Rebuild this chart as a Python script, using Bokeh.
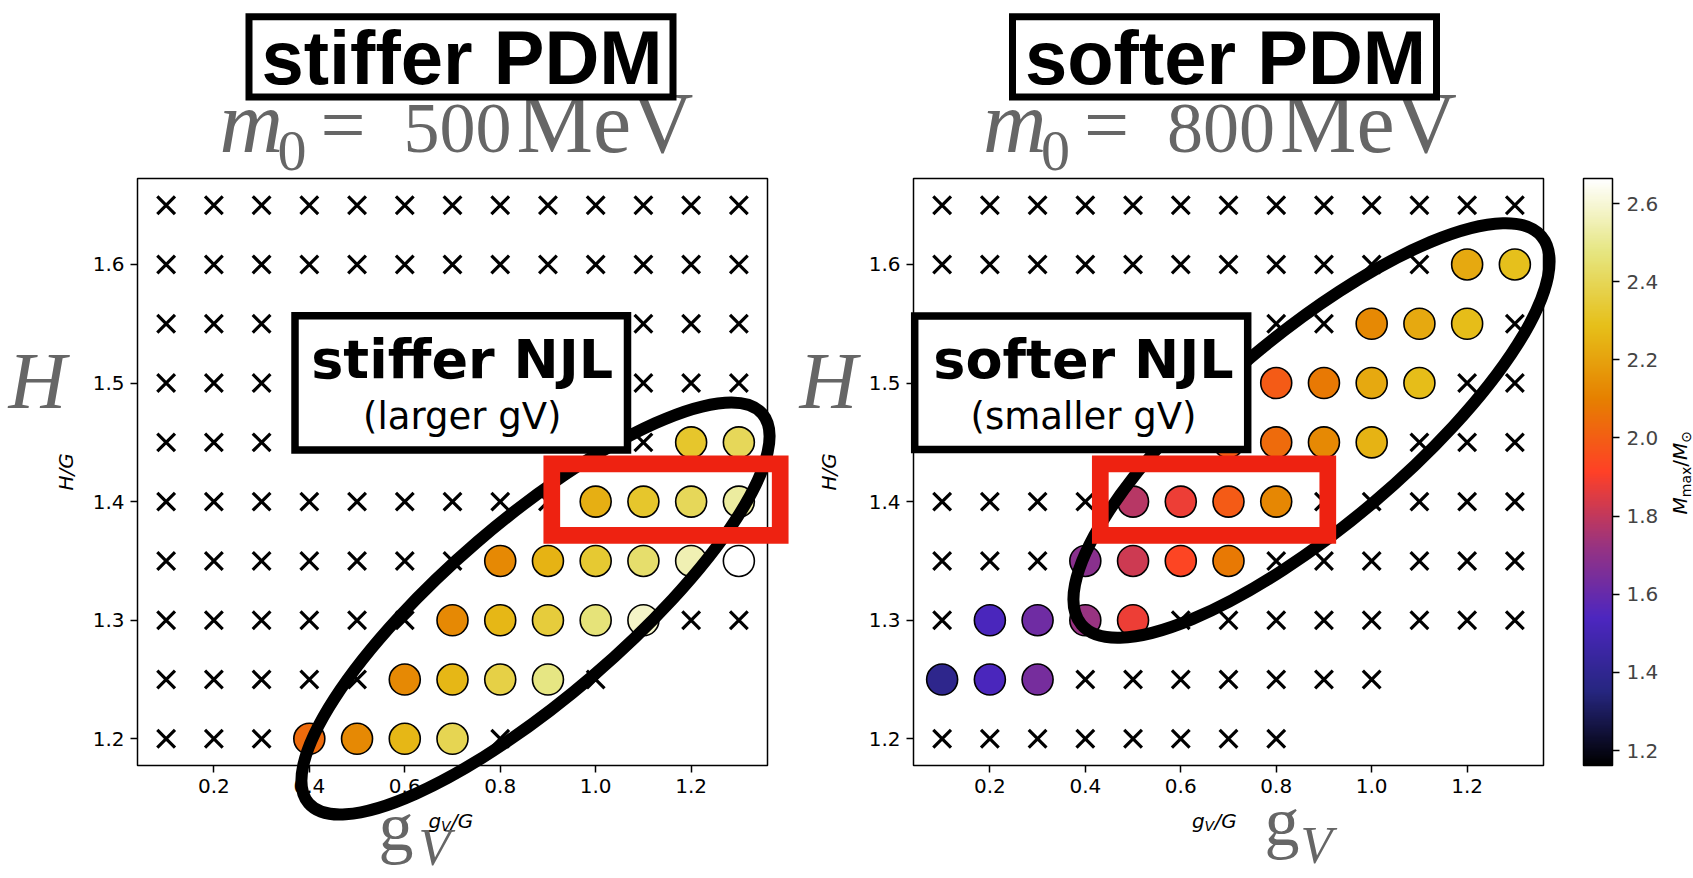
import numpy as np
from bokeh.plotting import figure
from bokeh.models import (ColumnDataSource, LinearAxis, FixedTicker, PrintfTickFormatter,
                          Range1d, LinearColorMapper, ColorBar)
from bokeh.layouts import row
from bokeh.core.properties import value
from bokeh.embed import file_html
from bokeh.resources import INLINE

# ---------------- data ----------------
gv_over_G = [0.1, 0.2, 0.3, 0.4, 0.5, 0.6, 0.7, 0.8, 0.9, 1.0, 1.1, 1.2, 1.3]
H_over_G = [1.2, 1.25, 1.3, 1.35, 1.4, 1.45, 1.5, 1.55, 1.6, 1.65]
X = "x"    # no solution (cross marker)
_ = None   # not computed

# rows follow H_over_G (bottom to top), columns follow gv_over_G
mmax_m0_500 = [
    [X, X, X, 2.04, 2.13, 2.26, 2.39, X, _, _, _, _, _],
    [X, X, X, X, X, 2.13, 2.26, 2.37, 2.48, X, _, _, _],
    [X, X, X, X, X, X, 2.13, 2.26, 2.35, 2.46, 2.58, X, X],
    [X, X, X, X, X, X, X, 2.13, 2.25, 2.33, 2.44, 2.55, 2.66],
    [X, X, X, X, X, X, X, X, X, 2.24, 2.32, 2.40, 2.52],
    [X, X, X, X, X, X, X, X, X, X, X, 2.32, 2.40],
    [X, X, X, X, X, X, X, X, X, X, X, X, X],
    [X, X, X, X, X, X, X, X, X, X, X, X, X],
    [X, X, X, X, X, X, X, X, X, X, X, X, X],
    [X, X, X, X, X, X, X, X, X, X, X, X, X],
]
mmax_m0_800 = [
    [X, X, X, X, X, X, X, X, _, _, _, _, _],
    [1.39, 1.53, 1.64, X, X, X, X, X, X, X, _, _, _],
    [X, 1.53, 1.62, 1.72, 1.88, X, X, X, X, X, X, X, X],
    [X, X, X, 1.69, 1.82, 1.93, 2.08, X, X, X, X, X, X],
    [X, X, X, X, 1.78, 1.88, 1.99, 2.12, X, X, X, X, X],
    [X, X, X, X, X, X, 2.00, 2.04, 2.13, 2.25, X, X, X],
    [X, X, X, X, X, X, X, 1.99, 2.08, 2.22, 2.28, X, X],
    [X, X, X, X, X, X, X, X, X, 2.13, 2.22, 2.28, X],
    [X, X, X, X, X, X, X, X, X, X, X, 2.22, 2.29],
    [X, X, X, X, X, X, X, X, X, X, X, X, X],
]
x_ticks = [0.2, 0.4, 0.6, 0.8, 1.0, 1.2]
y_ticks = [1.2, 1.3, 1.4, 1.5, 1.6]
cbar_ticks = [1.2, 1.4, 1.6, 1.8, 2.0, 2.2, 2.4, 2.6]
mmax_low, mmax_high = 1.162, 2.664

# CMRmap colour map
cmr_pos = [0, .125, .25, .375, .5, .625, .75, .875, 1]
cmr_r = [0, .15, .30, .60, 1.0, .90, .90, .90, 1.0]
cmr_g = [0, .15, .15, .20, .25, .50, .75, .90, 1.0]
cmr_b = [0, .50, .75, .50, .15, .00, .10, .50, 1.0]
palette = ["#%02x%02x%02x" % tuple(int(round(255 * np.interp(t, cmr_pos, c)))
                                    for c in (cmr_r, cmr_g, cmr_b))
           for t in np.linspace(0, 1, 256)]
mapper = LinearColorMapper(palette=palette, low=mmax_low, high=mmax_high)

# ---------------- layout (pixels of the window) ----------------
WIN_H = 878
FRAME_TOP, FRAME_BOTTOM, FRAME_W = 178, 765, 630
GRAY = "#666666"
SERIF = "Liberation Serif"
BASE_K = 0.34   # correction of the rendered alphabetic baseline (fraction of font size)


def split(grid):
    cx, cy, cm, xx, xy = [], [], [], [], []
    for j, hv in enumerate(H_over_G):
        for i, gv in enumerate(gv_over_G):
            v = grid[j][i]
            if v is None:
                continue
            if v == X:
                xx.append(gv); xy.append(hv)
            else:
                cx.append(gv); cy.append(hv); cm.append(v)
    return dict(x=cx, y=cy, m=cm), dict(x=xx, y=xy)


def build(W, frame_left, offset, grid):
    x_lo = min(gv_over_G) - 0.05 * (max(gv_over_G) - min(gv_over_G))
    x_hi = max(gv_over_G) + 0.05 * (max(gv_over_G) - min(gv_over_G))
    y_lo = min(H_over_G) - 0.05 * (max(H_over_G) - min(H_over_G))
    y_hi = max(H_over_G) + 0.05 * (max(H_over_G) - min(H_over_G))
    kx = FRAME_W / (x_hi - x_lo)
    ky = (FRAME_BOTTOM - FRAME_TOP) / (y_hi - y_lo)
    x0 = x_lo - frame_left / kx
    y0 = y_lo - (WIN_H - FRAME_BOTTOM) / ky
    p = figure(width=W, height=WIN_H, x_range=Range1d(x0, x0 + W / kx),
               y_range=Range1d(y0, y0 + WIN_H / ky),
               x_axis_location=None, y_axis_location=None,
               toolbar_location=None, output_backend="svg", min_border=0,
               outline_line_color=None, background_fill_color="white",
               border_fill_color="white")
    p.grid.visible = False

    def fx(gx):
        return x0 + (gx - offset) / kx

    def fy(gy):
        return y0 + (WIN_H - gy) / ky

    def style(ax):
        ax.major_label_text_font = "DejaVu Sans"
        ax.major_label_text_font_size = "20px"
        ax.major_label_text_color = "black"
        ax.major_tick_out = 7
        ax.major_tick_in = 0
        ax.major_tick_line_width = 1.5
        ax.major_tick_line_color = "black"
        ax.minor_tick_line_color = None
        ax.axis_line_color = None
        ax.major_label_standoff = 6

    xa = LinearAxis(fixed_location=y_lo, bounds=(x_lo, x_hi), ticker=FixedTicker(ticks=x_ticks),
                    formatter=PrintfTickFormatter(format="%.1f"))
    ya = LinearAxis(fixed_location=x_lo, bounds=(y_lo, y_hi), ticker=FixedTicker(ticks=y_ticks),
                    formatter=PrintfTickFormatter(format="%.1f"))
    style(xa); style(ya)
    p.add_layout(xa, "below")
    p.add_layout(ya, "left")

    # axes box
    p.quad(left=[x_lo], right=[x_hi], bottom=[y_lo], top=[y_hi], fill_color=None,
           line_color="black", line_width=1.5)

    circ, cross = split(grid)
    p.scatter("x", "y", source=ColumnDataSource(cross), marker="x", size=25,
              line_color="black", line_width=3.2)
    p.scatter("x", "y", source=ColumnDataSource(circ), marker="circle", size=31,
              fill_color={"field": "m", "transform": mapper}, line_color="black",
              line_width=1.6)
    return p, fx, fy


def text(p, fx, fy, gx, gy, s, size, font="DejaVu Sans", style="normal", color="black",
         align="left", angle=0.0):
    gx = gx - BASE_K * size * np.sin(angle)
    gy = gy - BASE_K * size * np.cos(angle)
    p.text(x=[fx(gx)], y=[fy(gy)], text=[s], text_font=value(font),
           text_font_size=value(f"{size}px"), text_font_style=value(style),
           text_color=color, text_align=value(align), text_baseline=value("alphabetic"),
           angle=angle, level="overlay")


def box(p, fx, fy, l, r, t, b, color, lw, fill=None):
    p.quad(left=[fx(l)], right=[fx(r)], top=[fy(t)], bottom=[fy(b)], fill_color=fill,
           line_color=color, line_width=lw, line_join="miter", level="overlay")


def ellipse(p, fx, fy, cx, cy, w, h, ang):
    p.ellipse(x=[fx(cx)], y=[fy(cy)], width=w, height=h, width_units="screen",
              height_units="screen", angle=np.deg2rad(ang), fill_color=None,
              line_color="black", line_width=12, level="overlay")


def decorate(p, fx, fy, dx, m0, pdm, njl, njl_sub, ell, red, njl_box, njl_cx, gv_pos, Hx):
    # NJL ellipse, red box, NJL label box
    ellipse(p, fx, fy, *ell)
    box(p, fx, fy, *red, color="#ee2211", lw=16.7)
    box(p, fx, fy, *njl_box, color="black", lw=7.5, fill="white")
    text(p, fx, fy, njl_cx, 377, njl, 54, style="bold", align="center")
    text(p, fx, fy, njl_cx, 429, njl_sub, 37, align="center")
    # m0 = ... MeV
    text(p, fx, fy, 219 + dx, 152, "m", 88, font=SERIF, style="italic", color=GRAY)
    text(p, fx, fy, 277 + dx, 170, "0", 58, font=SERIF, color=GRAY)
    text(p, fx, fy, 320 + dx, 152, "=", 80, font=SERIF, color=GRAY)
    text(p, fx, fy, 403 + dx, 152, m0, 72, font=SERIF, color=GRAY)
    text(p, fx, fy, 516 + dx, 152, "MeV", 86, font=SERIF, color=GRAY)
    # PDM title box
    box(p, fx, fy, 248.5 + dx, 672.5 + dx, 16.2, 96.5, color="black", lw=7, fill="white")
    text(p, fx, fy, 461.5 + dx, 83, pdm, 76, font="Liberation Sans", style="bold",
         align="center")
    # big H and g_V
    text(p, fx, fy, Hx, 408, "H", 80, font=SERIF, style="italic", color=GRAY)
    gx, gb, vx, vb = gv_pos
    text(p, fx, fy, gx, gb, "g", 70, font=SERIF, color=GRAY)
    text(p, fx, fy, vx, vb, "V", 52, font=SERIF, style="italic", color=GRAY)
    # small axis labels
    fl = 137 + dx
    text(p, fx, fy, fl - 65, 490, "H/G", 20, style="italic", angle=np.pi / 2)
    lx = fl + 315 - 24
    text(p, fx, fy, lx, 827, "g", 20, style="italic")
    text(p, fx, fy, lx + 12.5, 830.5, "V", 14, style="italic")
    text(p, fx, fy, lx + 22.5, 827, "/G", 20, style="italic")


LEFT_W, RIGHT_W = 792, 901
pL, fxL, fyL = build(LEFT_W, 137, 0, mmax_m0_500)
pR, fxR, fyR = build(RIGHT_W, 913 - LEFT_W, LEFT_W, mmax_m0_800)

decorate(pL, fxL, fyL, 0, "500", "stiffer PDM", "stiffer NJL", "(larger gV)",
         (535, 608, 598, 177, 40.65), (551.3, 779.7, 463.3, 534.9),
         (294.5, 627, 315.2, 449.5), 461.7, (378, 850, 418, 865), 8)
decorate(pR, fxR, fyR, 763.5, "800", "softer PDM", "softer NJL", "(smaller gV)",
         (1311, 430, 602, 190, 40.16), (1099.8, 1327.3, 463.3, 534.9),
         (914.2, 1247.2, 315.5, 449), 1083, (1264, 845, 1300, 863), 799)

# colour bar
cb = ColorBar(color_mapper=mapper, ticker=FixedTicker(ticks=cbar_ticks),
              formatter=PrintfTickFormatter(format="%.1f"), width=29,
              height=FRAME_BOTTOM - FRAME_TOP, location=(1583 - LEFT_W, WIN_H - FRAME_BOTTOM),
              padding=0, margin=0, major_label_text_font="DejaVu Sans",
              major_label_text_font_size="20px", major_tick_out=7, major_tick_in=0,
              major_tick_line_color="black", major_tick_line_width=1.5,
              minor_tick_line_color=None, bar_line_color="black", bar_line_width=1.5,
              background_fill_color=None, border_line_color=None, label_standoff=7)
pR.add_layout(cb)

# colour bar label  M_max / M_sun (rotated)
cbx, cby = 1686, 514
text(pR, fxR, fyR, cbx, cby, "M", 20, style="italic", angle=np.pi / 2)
text(pR, fxR, fyR, cbx + 4, cby - 17.3, "max", 14, angle=np.pi / 2)
text(pR, fxR, fyR, cbx, cby - 47.8, "/", 20, angle=np.pi / 2)
text(pR, fxR, fyR, cbx, cby - 54.5, "M", 20, style="italic", angle=np.pi / 2)
text(pR, fxR, fyR, cbx + 4, cby - 71.8, "\u2299", 14, angle=np.pi / 2)

layout = row(pL, pR)
open("out.html", "w").write(file_html(layout, INLINE))
